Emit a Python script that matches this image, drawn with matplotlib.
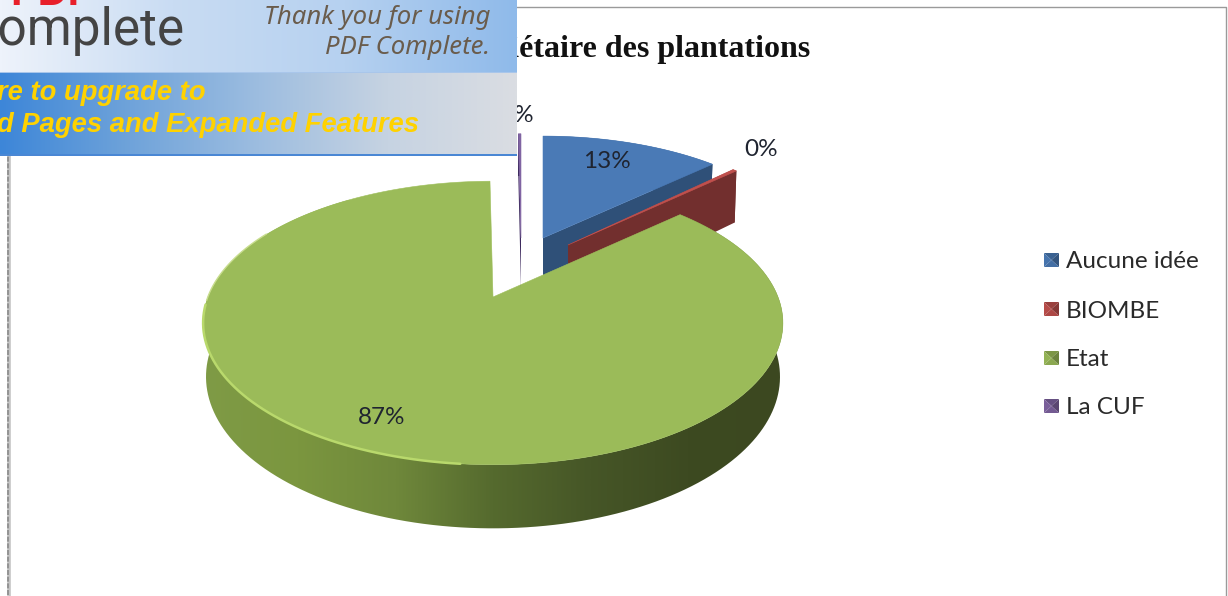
import numpy as np
import matplotlib
matplotlib.use('Agg')
import matplotlib.pyplot as plt
from matplotlib.colors import LinearSegmentedColormap
from matplotlib.patches import Polygon, Rectangle

# values, clockwise from 12 o'clock
categories = ['Aucune idée', 'BIOMBE', 'Etat', 'La CUF']
values = [12.9, 0.3, 86.6, 0.2]
title = 'Propriétaire des plantations'

top_colors = ['#4a7ab6', '#c0504d', '#9bbb59', '#8064a2']
wall_colors = ['#2f5078', '#722f2e', '#5f7a30', '#3d2a5e']
apexes = [(543, 238), (568, 245), (493, 297), (521, 238)]
scales = [0.88, 0.90, 1.0, 0.90]
xstretch = [1.05, 1.0, 1.0, 1.0]
depths = [50, 58, 52, 50]
label_pos = [(607, 162), (761, 150), (382, 417), (517, 115)]
legend_y = [262, 311, 360, 408]

PERSP = 0.183
RX = 285
RY = 137


def project(theta, apex, scale, depth=0, stretch=1.0):
    w = 1 + PERSP * np.cos(theta)
    x = apex[0] + stretch * scale * RX * np.sin(theta) / w
    y = apex[1] - scale * RY * np.cos(theta) / w + depth / w
    return np.column_stack([x, y])


def shade(color, f):
    c = np.array(matplotlib.colors.to_rgb(color))
    return tuple(np.clip(c * f, 0, 1))


def hgrad(ax, extent, stops, zorder, clip=None):
    cmap = LinearSegmentedColormap.from_list('g', stops)
    im = ax.imshow(np.linspace(0, 1, 512).reshape(1, -1), cmap=cmap, extent=extent,
                   aspect='auto', zorder=zorder, interpolation='bilinear')
    if clip is not None:
        im.set_clip_path(clip)
    return im


fig = plt.figure(figsize=(12.28, 5.96), dpi=100)
ax = fig.add_axes([0, 0, 1, 1])
ax.axis('off')

# chart frame
ax.plot([517, 1226, 1226], [7, 7, 596], color='#9a9a9a', lw=1, zorder=1)
ax.plot([8.5, 8.5], [150, 596], color='#c4c4c4', lw=2.6, zorder=1)
ax.plot([8, 8], [150, 596], color='#8a8a8a', lw=1.2, ls=(0, (3, 1)), zorder=1)

# slices
fractions = np.array(values) / sum(values)
ends = np.cumsum(fractions) * 2 * np.pi
starts = ends - fractions * 2 * np.pi
for i in range(len(values)):
    th = np.linspace(starts[i], ends[i], 200)
    top = project(th, apexes[i], scales[i], 0, xstretch[i])
    low = project(th, apexes[i], scales[i], depths[i], xstretch[i] * 0.99)
    z = 3 + i
    apex_low = (apexes[i][0], apexes[i][1] + depths[i])
    if categories[i] == 'Etat':
        band = Polygon(np.vstack([top, low[::-1]]), closed=True, fc='none', ec='none',
                       transform=ax.transData)
        ax.add_patch(band)
        hgrad(ax, (200, 786, 530, 200),
              ['#7f9b46', '#7b963f', '#6f883b', '#556a2e', '#465627', '#3d4a21', '#3c4820'],
              z, clip=band)
    else:
        # the two radial walls and the outer wall
        ax.add_patch(Polygon(np.array([apexes[i], top[0], low[0], apex_low]), closed=True,
                             fc=wall_colors[i], ec='none', zorder=z))
        ax.add_patch(Polygon(np.vstack([top, low[::-1]]), closed=True, fc=wall_colors[i],
                             ec='none', zorder=z))
        ax.add_patch(Polygon(np.array([apexes[i], top[-1], low[-1], apex_low]), closed=True,
                             fc=wall_colors[i], ec='none', zorder=z))
    ax.add_patch(Polygon(np.vstack([apexes[i], top]), closed=True, fc=top_colors[i],
                         ec=shade(top_colors[i], 1.02), lw=0.4, zorder=z + 0.1))
    if categories[i] == 'Etat':
        # light rim on the lower left of the top face
        part = (th > np.radians(185)) & (th < np.radians(268))
        ax.plot(top[part, 0], top[part, 1], color='#b9d96c', lw=1.8, zorder=z + 0.2,
                solid_capstyle='round')
        part = (th > np.radians(268)) & (th < np.radians(300))
        ax.plot(top[part, 0], top[part, 1] - 0.5, color='#c8dd8e', lw=1.0, zorder=z + 0.2)

# data labels
for v, (x, y) in zip(values, label_pos):
    ax.text(x, y, '%d%%' % round(v), ha='center', va='center', fontsize=17.5,
            family='Lato', color='#1f2430', zorder=9)

# legend with bevelled keys
for name, col, y in zip(categories, top_colors, legend_y):
    x0, x1, y0, y1 = 1044, 1059, y - 9, y + 5
    cx, cy = (x0 + x1) / 2, (y0 + y1) / 2
    tris = [((x0, y0), (x1, y0)), ((x1, y0), (x1, y1)), ((x1, y1), (x0, y1)), ((x0, y1), (x0, y0))]
    for (a, b), f in zip(tris, [0.8, 0.7, 0.9, 0.95]):
        ax.add_patch(Polygon([a, b, (cx, cy)], closed=True, fc=shade(col, f), ec='none', zorder=5))
    ax.text(1066, y, name, ha='left', va='center', fontsize=17.5, family='Lato',
            color='#2a2a2a', zorder=9)

ax.text(810, 49, title, ha='right', va='center', fontsize=23, family='Liberation Serif',
        weight='bold', color='#111111', zorder=9)

# PDF Complete banner over the top left
hgrad(ax, (0, 517, 72, 0), ['#eef3fb', '#c9dcf3', '#b6d1f0', '#8fbaea'], 20)
hgrad(ax, (0, 517, 155, 72), ['#3d86d8', '#6fa3da', '#9dbde0', '#c6d3e2', '#dadde2'], 20)
ax.add_patch(Rectangle((0, 153.5), 517, 2, fc='#4a87d4', ec='none', zorder=21))
ax.add_patch(Rectangle((0, 71.5), 517, 1.2, fc='#a9c6ea', ec='none', zorder=21))
ax.text(10, 5, 'PDF', ha='left', va='baseline', fontsize=30, weight='bold',
        family='Liberation Sans', color='#e8202a', zorder=22, clip_on=True)
ax.text(-36, 45, 'Complete', ha='left', va='baseline', fontsize=37,
        family='Roboto', color='#444444', zorder=22)
ax.text(490, 18, 'Thank you for using', ha='right', va='center', fontsize=18.5, style='italic',
        family='Noto Sans', color='#6a5c4c', zorder=22)
ax.text(490, 48, 'PDF Complete.', ha='right', va='center', fontsize=18.5, style='italic',
        family='Noto Sans', color='#6a5c4c', zorder=22)
ax.text(-3, 93, 're to upgrade to', ha='left', va='center', fontsize=19.7, style='italic',
        weight='bold', family='Liberation Sans', color='#ffd200', zorder=22)
ax.text(-3, 125, 'd Pages and Expanded Features', ha='left', va='center', fontsize=19.7,
        style='italic', weight='bold', family='Liberation Sans', color='#ffd200', zorder=22)

ax.set_xlim(0, 1228)
ax.set_ylim(596, 0)
fig.savefig('out.png', dpi=100, facecolor='white')
